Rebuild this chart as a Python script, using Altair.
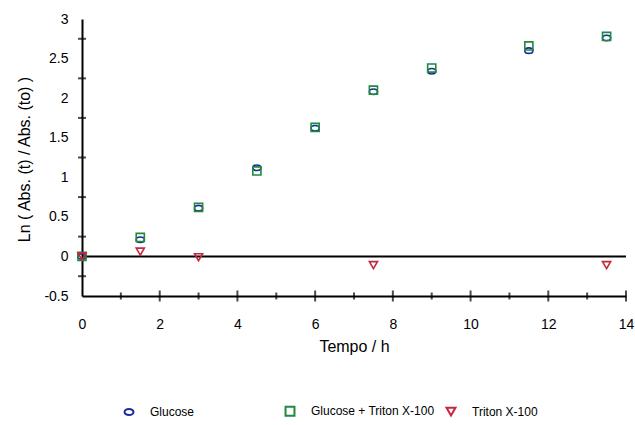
import altair as alt
import pandas as pd

# Time (h) and ln(Abs(t)/Abs(t0)) for each condition
t_glucose = [0, 1.5, 3, 4.5, 6, 7.5, 9, 11.5, 13.5]
glucose = [0, 0.21, 0.61, 1.12, 1.62, 2.08, 2.34, 2.60, 2.76]
glucose_triton = [0, 0.24, 0.62, 1.08, 1.63, 2.10, 2.38, 2.66, 2.78]
t_triton = [0, 1.5, 3, 7.5, 13.5]
triton = [0, 0.06, -0.01, -0.11, -0.11]

series_names = ["Glucose", "Glucose + Triton X-100", "Triton X-100"]
series_colors = ["#1c2c9c", "#1e8a3c", "#c4283c"]
ellipse = "M-1,0A1,0.68,0,1,1,1,0A1,0.68,0,1,1,-1,0Z"
series_shapes = [ellipse, "square", "triangle-down"]

x_labels = list(range(0, 15, 2))
y_labels = [-0.5, 0, 0.5, 1, 1.5, 2, 2.5, 3]
x_ticks = list(range(1, 15))
y_ticks = [-0.25, 0.25, 0.75, 1.25, 1.75, 2.25, 2.75]

FONT = "Liberation Sans"

points = pd.concat([
    pd.DataFrame({"t": t_glucose, "v": glucose_triton, "serie": series_names[1]}),
    pd.DataFrame({"t": t_glucose, "v": glucose, "serie": series_names[0]}),
    pd.DataFrame({"t": t_triton, "v": triton, "serie": series_names[2]}),
], ignore_index=True)

x_scale = alt.Scale(domain=[0, 14], nice=False, zero=False)
y_scale = alt.Scale(domain=[-0.5, 3], nice=False, zero=False)

# shared position channels so every layer uses the same scales and axes
X = alt.X("t:Q", scale=x_scale, title="Tempo / h",
          axis=alt.Axis(values=x_labels, ticks=False, grid=False, labelFlush=False,
                        labelExpr="'' + datum.value",
                        domainWidth=2, domainColor="black", labelFontSize=14,
                        labelFont=FONT, labelColor="black", labelPadding=21,
                        titleFont=FONT, titleFontSize=16, titleFontWeight="normal",
                        titleColor="black", titleY=42, titleBaseline="top"))
Y = alt.Y("v:Q", scale=y_scale, title="Ln ( Abs. (t) / Abs. (to) )",
          axis=alt.Axis(values=y_labels, ticks=False, grid=False, labelFlush=False,
                        labelExpr="'' + datum.value",
                        domainWidth=2, domainColor="black", labelFontSize=14,
                        labelFont=FONT, labelColor="black", labelPadding=14,
                        titleFont=FONT, titleFontSize=16, titleFontWeight="normal",
                        titleColor="black", titleX=-50, titleY=140,
                        titleBaseline="bottom"))

marks = alt.Chart(points).mark_point(filled=False, strokeWidth=1.6, opacity=1).encode(
    x=X,
    y=Y,
    color=alt.Color("serie:N", scale=alt.Scale(domain=series_names, range=series_colors),
                    legend=alt.Legend(orient="none", legendX=41, legendY=386,
                                      direction="horizontal", columns=3, gridAlign="all",
                                      title=None, labelFont=FONT, labelFontSize=12,
                                      labelColor="black", labelOffset=15,
                                      columnPadding=7, symbolSize=80,
                                      symbolStrokeWidth=2, padding=0)),
    shape=alt.Shape("serie:N", scale=alt.Scale(domain=series_names, range=series_shapes)),
    size=alt.value(66),
    order=alt.Order("serie:N"),
)

zero_line = alt.Chart(pd.DataFrame({"t": [0], "b": [14], "v": [0]})).mark_rule(
    color="black", strokeWidth=2).encode(x=X, x2="b:Q", y=Y)

xt = pd.DataFrame({"t": x_ticks, "v": -0.5, "len": [7 if k % 2 else 11 for k in x_ticks]})
x_tick_marks = alt.Chart(xt).mark_tick(orient="vertical", color="black", thickness=2).encode(
    x=X, y=Y, size=alt.Size("len:Q", scale=None))

yt = pd.DataFrame({"t": 0, "v": y_ticks})
y_tick_marks = alt.Chart(yt).mark_tick(orient="horizontal", color="black", thickness=2,
                                       size=8).encode(x=X, y=Y)

chart = alt.layer(zero_line, x_tick_marks, y_tick_marks, marks).properties(
    width=544, height=277,
    padding={"left": 82, "top": 19, "right": 9, "bottom": 129},
    autosize="none",
    background="white",
).configure_view(stroke=None)

chart.save("out.html", embed_options={"renderer": "svg", "actions": False})
